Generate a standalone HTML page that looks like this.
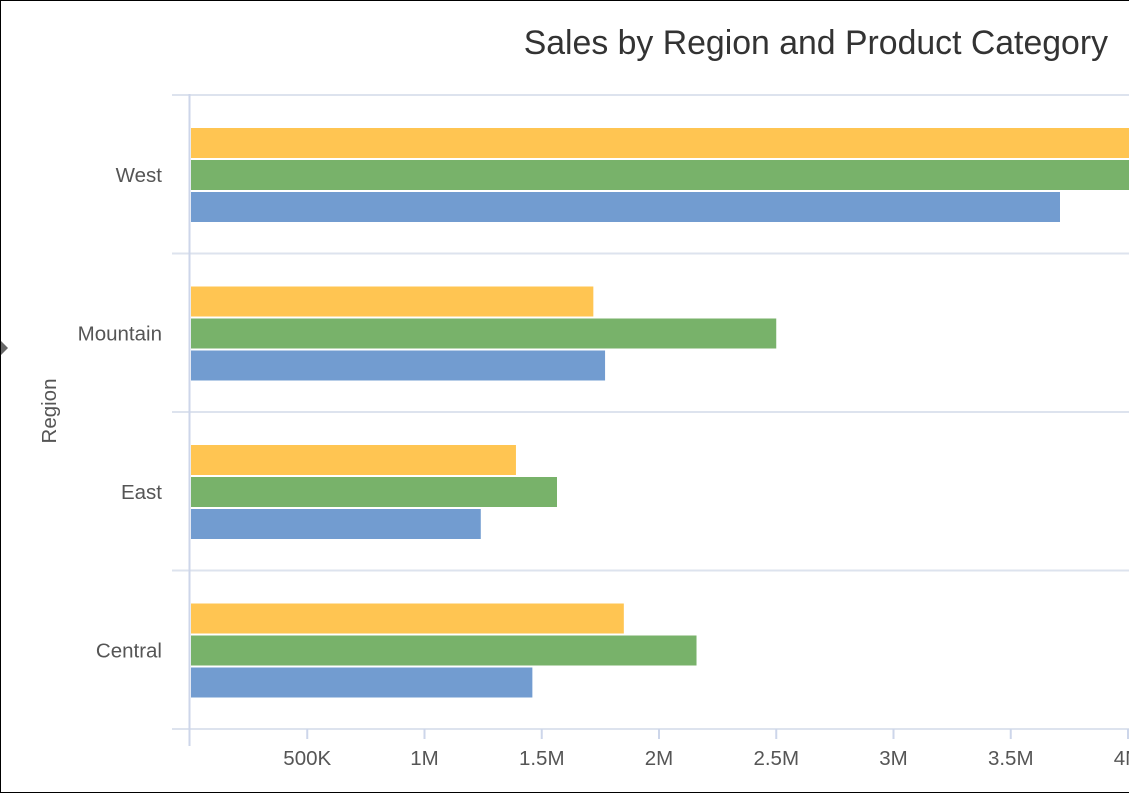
<!DOCTYPE html>
<html><head><meta charset="utf-8"><style>
html,body{margin:0;padding:0;background:#fff}
#wrap{position:relative;width:1129px;height:793px;box-sizing:border-box;border:1px solid #000;border-right:none;overflow:hidden;font-family:"Liberation Sans",sans-serif}
</style></head><body>
<div id="wrap">
<svg id="chart" width="1129" height="793" style="position:absolute;left:-1px;top:-1px">
<text x="1108" y="54" text-anchor="end" font-size="33.8" fill="#333">Sales by Region and Product Category</text>
<text transform="translate(56,411) rotate(-90)" text-anchor="middle" font-size="20.5" fill="#555">Region</text>
<polygon points="1,341 8,348 1,355" fill="#666"/>
<g id="grid"></g><g id="bars"></g><g id="axes"></g>
</svg>
</div>
<script>
const regions=["West","Mountain","East","Central"];
const furniture=[4.3,1.72,1.39,1.85];
const office=[4.2,2.5,1.565,2.16];
const tech=[3.71,1.77,1.24,1.46];
const tickVals=[0.5,1,1.5,2,2.5,3,3.5,4];
const tickLabels=["500K","1M","1.5M","2M","2.5M","3M","3.5M","4M"];
const NS="http://www.w3.org/2000/svg";
const x=v=>190+v*234.5;
const bandTop=i=>95+i*158.5;
function mk(t,a,p){const e=document.createElementNS(NS,t);for(const k in a)e.setAttribute(k,a[k]);p.appendChild(e);return e;}
const grid=document.getElementById('grid'),bars=document.getElementById('bars'),axes=document.getElementById('axes');
for(let i=0;i<=regions.length;i++){
  const y=bandTop(i);
  const l=mk('line',{x1:172,x2:1129,y1:y,y2:y,stroke:'#dde3ee','stroke-width':2},grid);
  
  
}
const series=[[furniture,'#ffc552','furniture'],[office,'#78b26a','office-supplies'],[tech,'#729cd0','technology']];
regions.forEach((r,i)=>{
  const t=bandTop(i);
  series.forEach((s,j)=>{
    const b=mk('rect',{x:191,y:t+33+j*32,width:Math.max(0,x(s[0][i])-191),height:30,fill:s[1]},bars);
    
    
  });
  const lb=mk('text',{x:162,y:t+87,'text-anchor':'end','font-size':20.5,fill:'#555'},axes);
  lb.textContent=r;
  
  
});
const ya=mk('line',{x1:189.5,x2:189.5,y1:94,y2:746,stroke:'#cdd6ea','stroke-width':2},axes);


tickVals.forEach((v,i)=>{
  const tk=mk('line',{x1:x(v),x2:x(v),y1:729,y2:739,stroke:'#cdd6ea','stroke-width':2},axes);
  
  
  const tl=mk('text',{x:x(v),y:765,'text-anchor':'middle','font-size':20.5,fill:'#555'},axes);
  tl.textContent=tickLabels[i];
  
  
});
</script>
</body></html>
